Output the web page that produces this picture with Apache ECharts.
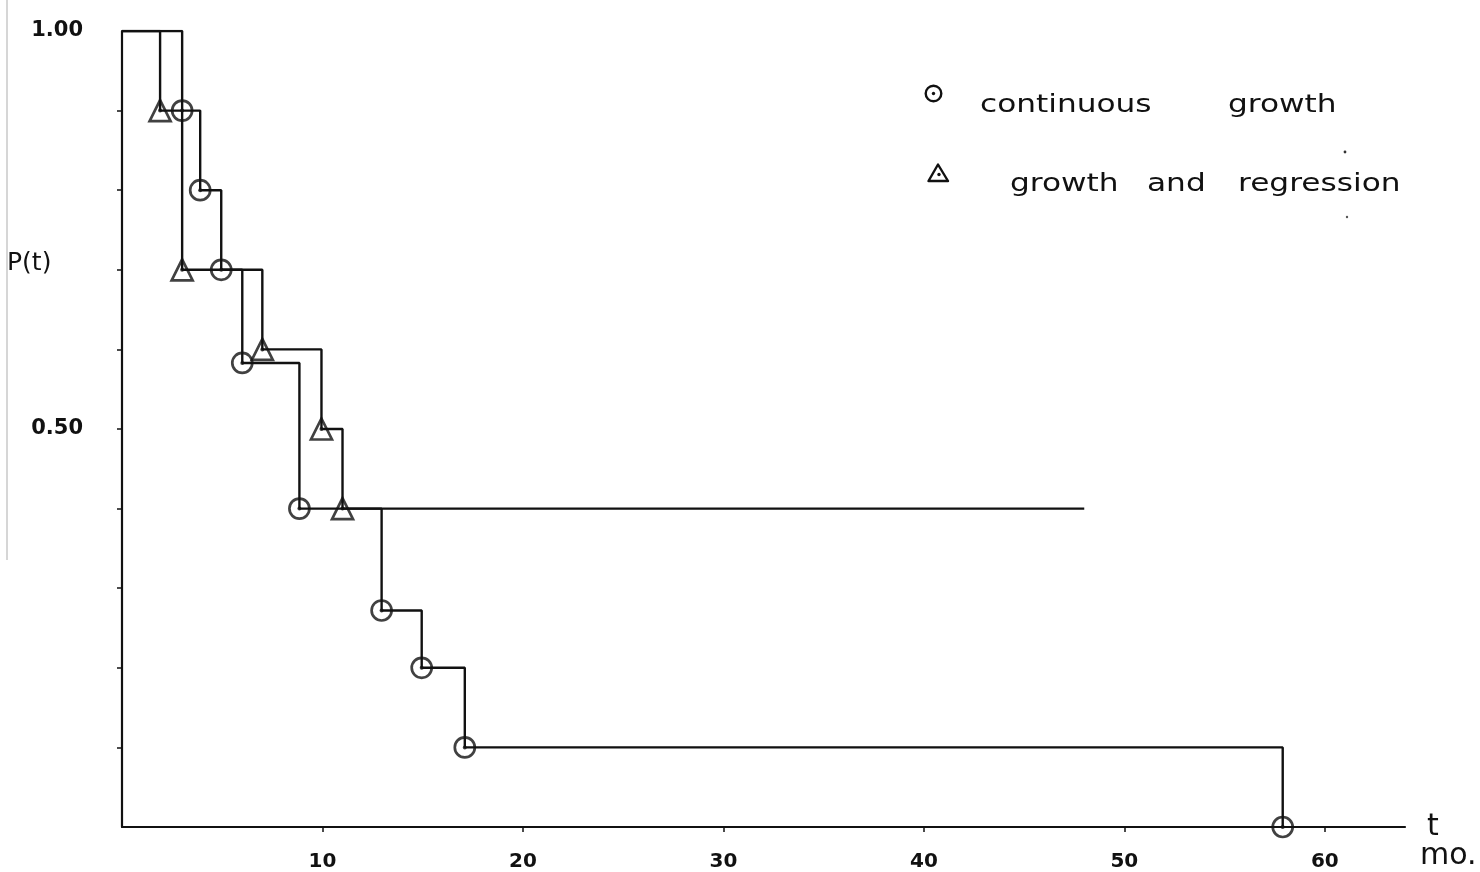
<!DOCTYPE html>
<html>
<head>
<meta charset="UTF-8">
<title>P(t) - continuous growth / growth and regression</title>
<script src="https://cdn.jsdelivr.net/npm/echarts@6/dist/echarts.min.js"></script>
<style>
	html, body { margin: 0; padding: 0; background: #fff; }
	#main { width: 1480px; height: 872px; }
</style>
</head>
<body>
<div id="main"></div>
<script>
	// continuous growth: event times (mo.) and P(t) just after each event
	var growthTimes = [3, 3.9, 4.95, 6, 8.85, 12.95, 14.95, 17.1, 57.9];
	var growthSurv = [0.9, 0.8, 0.7, 0.583, 0.4, 0.272, 0.2, 0.1, 0];
	// growth and regression
	var regressTimes = [1.9, 3, 7, 9.95, 11];
	var regressSurv = [0.9, 0.7, 0.6, 0.5, 0.4];
	var regressLastSeen = 48; // flat to here, no more events

	var xTicks = [10, 20, 30, 40, 50, 60];
	var yTicks = [0.1, 0.2, 0.3, 0.4, 0.5, 0.6, 0.7, 0.8, 0.9];
	var yLabels = [0.5, 1.0];

	var ink = '#111';
	var font = 'DejaVu Sans';

	function pairs(ts, ss) {
		return ts.map(function(t, i) { return [t, ss[i]]; });
	}
	var growthPts = pairs(growthTimes, growthSurv);
	var regressPts = pairs(regressTimes, regressSurv);
	var growthLine = [[0, 1]].concat(growthPts);
	var regressLine = [[0, 1]].concat(regressPts, [[regressLastSeen, regressSurv[regressSurv.length - 1]]]);

	// legend words, hand lettering is wide so the words get stretched a bit
	function word(txt, x, y) {
		return {
			type: 'text', x: x, y: y, scaleX: 1.3, silent: true,
			style: { text: txt, x: 0, y: 0, fill: ink, font: '24px "' + font + '"', textAlign: 'left', textVerticalAlign: 'middle' }
		};
	}

	var myChart = echarts.init(document.getElementById('main'));
	myChart.setOption({
		animation: false,
		backgroundColor: '#fff',
		grid: {
			left: 122, right: 75, top: 31, bottom: 45,
			containLabel: false,
			outerBoundsMode: 'none'
		},
		xAxis: {
			type: 'value',
			min: 0,
			max: 64,
			name: 't',
			nameLocation: 'end',
			nameGap: 22,
			nameTextStyle: { fontSize: 30, fontFamily: font, color: ink, padding: [0, 0, 44, 0] },
			axisLine: { lineStyle: { color: ink, width: 2.2 } },
			axisTick: { customValues: xTicks, length: 5, lineStyle: { color: ink, width: 1.5 } },
			axisLabel: { customValues: xTicks, margin: 25, fontSize: 20, fontWeight: 'bold', fontFamily: font, color: ink },
			splitLine: { show: false }
		},
		yAxis: {
			type: 'value',
			min: 0,
			max: 1,
			axisLine: { show: true, lineStyle: { color: ink, width: 2.2 } },
			axisTick: { show: true, customValues: yTicks, length: 5, lineStyle: { color: ink, width: 1.5 } },
			axisLabel: {
				customValues: yLabels, margin: 39, fontSize: 21, fontWeight: 'bold', fontFamily: font, color: ink,
				padding: [0, 0, 14, 0],
				formatter: function(v) { return v.toFixed(2); }
			},
			splitLine: { show: false }
		},
		graphic: [
			// scan edge line at the far left
			{ type: 'line', silent: true, shape: { x1: 7, y1: 0, x2: 7, y2: 560 }, style: { stroke: '#c8c8c8', lineWidth: 1.5 } },
			{ type: 'text', silent: true, style: { text: 'P(t)', x: 7, y: 263, fill: ink, font: '25px "' + font + '"', textAlign: 'left', textVerticalAlign: 'middle' } },
			{ type: 'text', silent: true, style: { text: 'mo.', x: 1420, y: 856, fill: ink, font: '30px "' + font + '"', textAlign: 'left', textVerticalAlign: 'middle' } },
			// legend
			{ type: 'circle', silent: true, shape: { cx: 933.5, cy: 93.5, r: 7.8 }, style: { fill: 'none', stroke: ink, lineWidth: 2.4 } },
			{ type: 'circle', silent: true, shape: { cx: 933.5, cy: 93.5, r: 1.7 }, style: { fill: ink } },
			{ type: 'polygon', silent: true, shape: { points: [[938, 164.5], [928.5, 181], [948, 181]] }, style: { fill: 'none', stroke: ink, lineWidth: 2.4, lineJoin: 'round' } },
			{ type: 'circle', silent: true, shape: { cx: 939, cy: 174.5, r: 1.7 }, style: { fill: ink } },
			word('continuous', 980, 106),
			word('growth', 1228, 106),
			word('growth', 1010, 185),
			word('and', 1147, 185),
			word('regression', 1238, 185),
			{ type: 'circle', silent: true, shape: { cx: 1345, cy: 152, r: 1.4 }, style: { fill: '#333' } },
			{ type: 'circle', silent: true, shape: { cx: 1347, cy: 217, r: 1.2 }, style: { fill: '#555' } }
		],
		series: [
			{
				name: 'continuous growth',
				type: 'line',
				step: 'end',
				data: growthLine,
				showSymbol: false,
				silent: true,
				lineStyle: { color: ink, width: 2.4 }
			},
			{
				name: 'growth and regression',
				type: 'line',
				step: 'end',
				data: regressLine,
				showSymbol: false,
				silent: true,
				lineStyle: { color: ink, width: 2.4 }
			},
			{
				name: 'continuous growth marks',
				type: 'scatter',
				data: growthPts,
				symbol: 'circle',
				symbolSize: 20,
				silent: true,
				itemStyle: { color: 'rgba(0,0,0,0)', borderColor: ink, borderWidth: 2.7 }
			},
			{
				name: 'growth and regression marks',
				type: 'scatter',
				data: regressPts,
				symbol: 'triangle',
				symbolSize: 21,
				silent: true,
				itemStyle: { color: 'rgba(0,0,0,0)', borderColor: ink, borderWidth: 2.7 }
			},
			{
				name: 'mark centres',
				type: 'scatter',
				data: growthPts.concat(regressPts),
				symbol: 'circle',
				symbolSize: 4,
				silent: true,
				itemStyle: { color: ink }
			}
		]
	});
</script>
</body>
</html>
